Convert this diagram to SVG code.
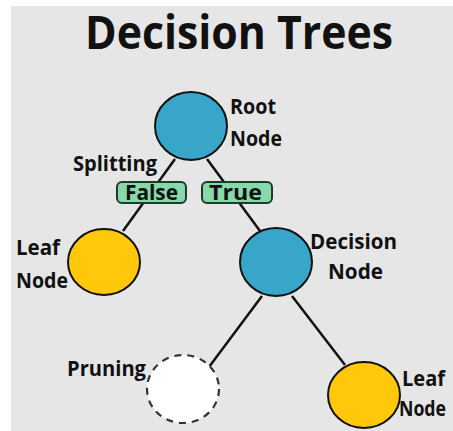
<svg xmlns="http://www.w3.org/2000/svg" width="453" height="431" viewBox="0 0 453 431">
<style>
.t{font-family:"Open Sans","Liberation Sans",sans-serif;font-weight:bold;fill:#111;font-size:22px}
.b{font-size:21px}
.edge{stroke:#111;stroke-width:2.5;fill:none}
.blue{fill:#38a6c8;stroke:#111;stroke-width:2}
.yellow{fill:#ffc80a;stroke:#111;stroke-width:2}
.prune{fill:#fff;stroke:#333;stroke-width:2.2;stroke-dasharray:7 6}
.box{fill:#86d9a8;stroke:#1d3a2a;stroke-width:2}
</style>
<rect x="0" y="0" width="453" height="431" fill="#fff"/>
<rect x="11" y="6" width="442" height="425" fill="#e6e6e6"/>
<text class="t" x="239" y="49" text-anchor="middle" style="font-size:47px" textLength="308" lengthAdjust="spacingAndGlyphs">Decision Trees</text>
<g id="connectors">
<line class="edge" x1="175" y1="159" x2="123" y2="231"/>
<line class="edge" x1="207" y1="159" x2="260" y2="231"/>
<line class="edge" x1="262" y1="296" x2="209" y2="367"/>
<line class="edge" x1="292" y1="296" x2="345" y2="365"/>
</g>
<g id="root">
<ellipse class="blue" cx="191" cy="126" rx="36" ry="34"/>
<text class="t" x="230" y="114" textLength="46" lengthAdjust="spacingAndGlyphs">Root</text>
<text class="t" x="230" y="146" textLength="52" lengthAdjust="spacingAndGlyphs">Node</text>
</g>
<g id="splitting">
<text class="t" x="73" y="171" textLength="84" lengthAdjust="spacingAndGlyphs">Splitting</text>
</g>
<g id="false">
<rect class="box" x="117" y="182" width="69" height="21" rx="5"/>
<text class="t b" x="125" y="200" textLength="53" lengthAdjust="spacingAndGlyphs">False</text>
</g>
<g id="true">
<rect class="box" x="202" y="182" width="70" height="21" rx="5"/>
<text class="t b" x="209" y="200" textLength="53" lengthAdjust="spacingAndGlyphs">True</text>
</g>
<g id="leaf-left">
<ellipse class="yellow" cx="104" cy="262" rx="36" ry="33"/>
<text class="t" x="16" y="255" textLength="44" lengthAdjust="spacingAndGlyphs">Leaf</text>
<text class="t" x="16" y="288" textLength="52" lengthAdjust="spacingAndGlyphs">Node</text>
</g>
<g id="decision">
<ellipse class="blue" cx="276" cy="262" rx="36" ry="34"/>
<text class="t" x="310" y="249" textLength="87" lengthAdjust="spacingAndGlyphs">Decision</text>
<text class="t" x="328" y="279" textLength="55" lengthAdjust="spacingAndGlyphs">Node</text>
</g>
<g id="pruning">
<ellipse class="prune" cx="183" cy="389" rx="36" ry="34"/>
<text class="t" x="67" y="376" textLength="79" lengthAdjust="spacingAndGlyphs">Pruning</text>
</g>
<g id="leaf-right">
<ellipse class="yellow" cx="364" cy="395" rx="36" ry="33"/>
<text class="t" x="402" y="386" textLength="43" lengthAdjust="spacingAndGlyphs">Leaf</text>
<text class="t" x="399" y="416" textLength="47" lengthAdjust="spacingAndGlyphs">Node</text>
</g>
</svg>
